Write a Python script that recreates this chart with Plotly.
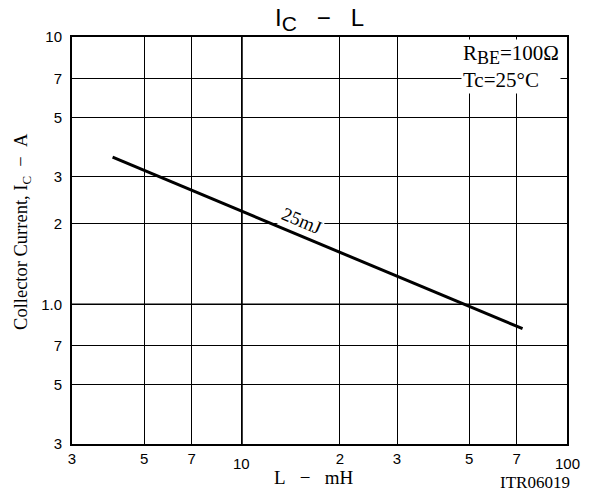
import plotly.graph_objects as go
import math

# Data (25 mJ line)
L_mH = [4, 73]
I_C = [3.55, 0.81]

x_tickvals = [3, 5, 7, 10, 20, 30, 50, 70, 100]
x_ticktext = ["3", "5", "7", "", "2", "3", "5", "7", ""]
y_tickvals = [0.3, 0.5, 0.7, 1.0, 2, 3, 5, 7, 10]
y_ticktext = ["3", "5", "7", "1.0", "2", "3", "5", "7", "10"]

# heavier decade grid lines
major_x = [10]
major_y = [1.0]
x_range = [3, 100]
y_range = [0.3, 10]

sans = "Liberation Sans, Arial, sans-serif"
serif = "Liberation Serif, Times New Roman, serif"
NB = "\u00a0"

fig = go.Figure()
for xv in major_x:
    fig.add_trace(go.Scatter(x=[xv, xv], y=y_range, mode="lines", hoverinfo="skip",
                             line=dict(color="black", width=1.6), showlegend=False))
for yv in major_y:
    fig.add_trace(go.Scatter(x=x_range, y=[yv, yv], mode="lines", hoverinfo="skip",
                             line=dict(color="black", width=1.6), showlegend=False))
fig.add_trace(go.Scatter(x=L_mH, y=I_C, mode="lines",
                         line=dict(color="black", width=3), showlegend=False))

fig.update_layout(
    width=581, height=486,
    margin=dict(l=64, r=22, t=29, b=50),
    paper_bgcolor="white", plot_bgcolor="white",
    xaxis=dict(type="log", range=[math.log10(x_range[0]), math.log10(x_range[1])],
               tickvals=x_tickvals, ticktext=x_ticktext,
               showgrid=True, gridcolor="black", gridwidth=1, showline=True, linecolor="black",
               linewidth=2, mirror=True, ticks="", zeroline=False,
               tickfont=dict(family=sans, size=15, color="black")),
    yaxis=dict(type="log", range=[math.log10(y_range[0]), math.log10(y_range[1])],
               tickvals=y_tickvals, ticktext=y_ticktext, ticklabelstandoff=5,
               showgrid=True, gridcolor="black", gridwidth=1, showline=True, linecolor="black",
               linewidth=2, mirror=True, ticks="", zeroline=False,
               tickfont=dict(family=sans, size=15, color="black")),
)

annos = [
    dict(text="I<sub><span style='font-size:21px'>C</span></sub>" + NB * 3 + "−" + NB * 3 + "L",
         xref="paper", yref="paper", x=0.5, y=1, yanchor="middle", yshift=18,
         showarrow=False, font=dict(family=sans, size=24, color="black")),
    dict(text="Collector Current, I<sub>C</sub>" + NB * 2 + "−" + NB * 2 + "A",
         xref="paper", yref="paper", x=0, y=0.521, xanchor="center",
         xshift=-49, textangle=-90, showarrow=False, font=dict(family=serif, size=18.5, color="black")),
    dict(text="L" + NB * 3 + "−" + NB * 3 + "mH", xref="paper", yref="paper", x=0.5, y=0,
         xshift=-6, yanchor="middle", yshift=-33,
         showarrow=False, font=dict(family=serif, size=19, color="black")),
    dict(text="ITR06019", xref="paper", yref="paper", x=1, y=0, xanchor="right", xshift=5,
         yanchor="middle", yshift=-38,
         showarrow=False, font=dict(family=serif, size=17, color="black")),
    dict(text="10", xref="x", yref="paper", x=math.log10(10), y=0, yanchor="middle", yshift=-19,
         showarrow=False, font=dict(family=sans, size=15, color="black")),
    dict(text="100", xref="x", yref="paper", x=math.log10(100), y=0, yanchor="middle", yshift=-19,
         showarrow=False, font=dict(family=sans, size=15, color="black")),
    dict(text="R<sub><span style='font-size:18px'>BE</span></sub>=100Ω<br>Tc=25°C",
         xref="paper", yref="paper", x=1, y=1,
         xanchor="right", yanchor="top", xshift=-6, yshift=-2, align="left", showarrow=False,
         bgcolor="white", font=dict(family=serif, size=21, color="black")),
    dict(text="25mJ", xref="x", yref="y", x=1.182, y=0.312, textangle=23,
         showarrow=False, bgcolor="white", font=dict(family=serif, size=19, color="black")),
]
fig.update_layout(annotations=annos)

fig.write_html("out.html")
